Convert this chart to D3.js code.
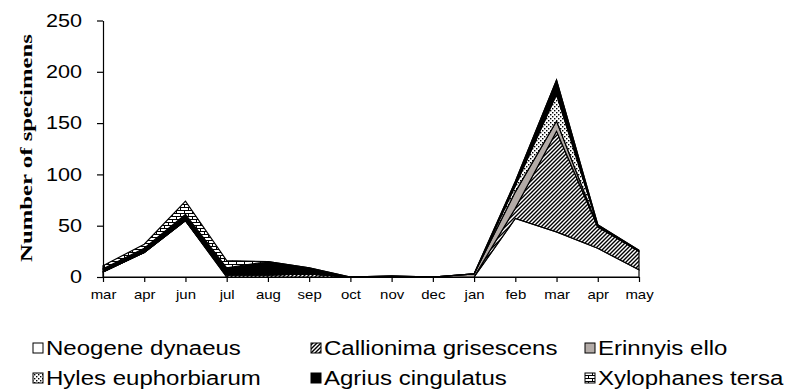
<!DOCTYPE html>
<html>
<head>
<meta charset="utf-8">
<script src="https://cdn.jsdelivr.net/npm/d3@7"></script>
<style>
  body { margin: 0; background: #fff; }
  svg { display: block; }
  text { fill: #000; }
</style>
</head>
<body>
<svg id="chart" width="808" height="392"></svg>
<script>
// Monthly sphingid captures, stacked by species
const months     = ["mar", "apr", "jun", "jul", "aug", "sep", "oct", "nov", "dec", "jan", "feb", "mar", "apr", "may"];
const neogene    = [5, 24, 55, 0, 0, 0, 0, 0, 0, 0, 57, 44, 28, 7];
const callionima = [0, 0, 0, 2, 2, 3, 0, 0, 0, 0, 10, 98, 21, 18];
const erinnyis   = [0, 0, 0, 0, 0, 0, 0, 0, 0, 3, 16, 10, 0, 0];
const hyles      = [0, 0, 0, 0, 0, 0, 0, 0, 0, 0, 6, 26, 1, 0];
const agrius     = [3, 4, 6, 7, 13, 6, 0, 1, 0, 0, 4, 14, 1, 1];
const xylophanes = [3, 4, 13, 7, 0, 0, 0, 0, 0, 0, 0, 0, 0, 0];

const seriesNames = ["Neogene dynaeus", "Callionima grisescens", "Erinnyis ello",
                     "Hyles euphorbiarum", "Agrius cingulatus", "Xylophanes tersa"];
const seriesValues = [neogene, callionima, erinnyis, hyles, agrius, xylophanes];
const yTicks = [0, 50, 100, 150, 200, 250];

const svg = d3.select("#chart");
const defs = svg.append("defs");

// Widen text glyphs horizontally by a factor
function widen(sel, factor) {
  sel.each(function () {
    const w = this.getComputedTextLength();
    d3.select(this).attr("textLength", w * factor).attr("lengthAdjust", "spacingAndGlyphs");
  });
}

// Fill patterns
const hatch = defs.append("pattern").attr("id", "p-hatch")
  .attr("patternUnits", "userSpaceOnUse").attr("width", 4).attr("height", 4);
hatch.append("rect").attr("width", 4).attr("height", 4).attr("fill", "#fff");
hatch.append("path").attr("d", "M-1,1 L1,-1 M0,4 L4,0 M3,5 L5,3")
  .attr("stroke", "#000").attr("stroke-width", 1.4);

const dots = defs.append("pattern").attr("id", "p-dots")
  .attr("patternUnits", "userSpaceOnUse").attr("width", 4).attr("height", 4);
dots.append("rect").attr("width", 4).attr("height", 4).attr("fill", "#fff");
dots.append("rect").attr("x", 0).attr("y", 0).attr("width", 1.4).attr("height", 1.4).attr("fill", "#000");
dots.append("rect").attr("x", 2).attr("y", 2).attr("width", 1.4).attr("height", 1.4).attr("fill", "#000");

const brick = defs.append("pattern").attr("id", "p-brick")
  .attr("patternUnits", "userSpaceOnUse").attr("width", 8).attr("height", 6);
brick.append("rect").attr("width", 8).attr("height", 6).attr("fill", "#fff");
brick.append("path").attr("d", "M0,0.5 H8 M0,3.5 H8 M0.5,0.5 V3.5 M4.5,3.5 V6.5")
  .attr("stroke", "#000").attr("stroke-width", 1);

const fills = ["#fff", "url(#p-hatch)", "#b3aba7", "url(#p-dots)", "#000", "url(#p-brick)"];

// Scales
const x = d3.scalePoint().domain(d3.range(months.length)).range([103, 639]);
const y = d3.scaleLinear().domain([0, 250]).range([277, 20.5]);

// Stack
const rows = months.map((m, i) => {
  const r = { i };
  seriesNames.forEach((n, k) => { r[n] = seriesValues[k][i]; });
  return r;
});
const stacked = d3.stack().keys(seriesNames)(rows);

const area = d3.area()
  .x(d => x(d.data.i))
  .y0(d => y(d[0]))
  .y1(d => y(d[1]));

svg.append("g").selectAll("path")
  .data(stacked)
  .join("path")
  .attr("d", area)
  .attr("fill", (d, k) => fills[k])
  .attr("stroke", "#000")
  .attr("stroke-width", 1.2)
  .attr("stroke-linejoin", "miter");

// Axes
const yAxis = svg.append("g")
  .attr("transform", "translate(103,0)")
  .call(d3.axisLeft(y).tickValues(yTicks).tickSize(6).tickSizeOuter(0).tickPadding(15));
yAxis.selectAll("text")
  .attr("font-family", "'Liberation Sans', Arial, sans-serif")
  .attr("font-size", 18)
  .call(widen, 1.2);

const xAxis = svg.append("g")
  .attr("transform", "translate(0,277)")
  .call(d3.axisBottom(x).tickFormat(i => months[i]).tickSize(5).tickSizeOuter(0).tickPadding(8));
xAxis.selectAll("text")
  .attr("font-family", "'Liberation Sans', Arial, sans-serif")
  .attr("font-size", 13)
  .call(widen, 1.15);

svg.selectAll(".domain, .tick line").attr("stroke", "#000").attr("stroke-width", 1.2);

// Axis title
svg.append("text")
  .attr("transform", "translate(26,148) rotate(-90)")
  .attr("text-anchor", "middle")
  .attr("dominant-baseline", "central")
  .attr("font-family", "'Liberation Serif', 'Times New Roman', serif")
  .attr("font-weight", "bold")
  .attr("font-size", 17)
  .attr("textLength", 228)
  .attr("lengthAdjust", "spacingAndGlyphs")
  .text("Number of specimens");

// Legend
const legendCols = [33, 311, 585];
const legendRows = [348, 378];
const legend = svg.append("g");
seriesNames.forEach((name, k) => {
  const lx = legendCols[k % 3];
  const ly = legendRows[Math.floor(k / 3)];
  legend.append("rect")
    .attr("x", lx).attr("y", ly - 5)
    .attr("width", 10).attr("height", 10)
    .attr("fill", fills[k]).attr("stroke", "#000").attr("stroke-width", 1);
  legend.append("text")
    .attr("x", lx + 13).attr("y", ly + 7)
    .attr("font-family", "'Liberation Sans', Arial, sans-serif")
    .attr("font-size", 20)
    .text(name)
    .call(widen, 1.2);
});
</script>
</body>
</html>
